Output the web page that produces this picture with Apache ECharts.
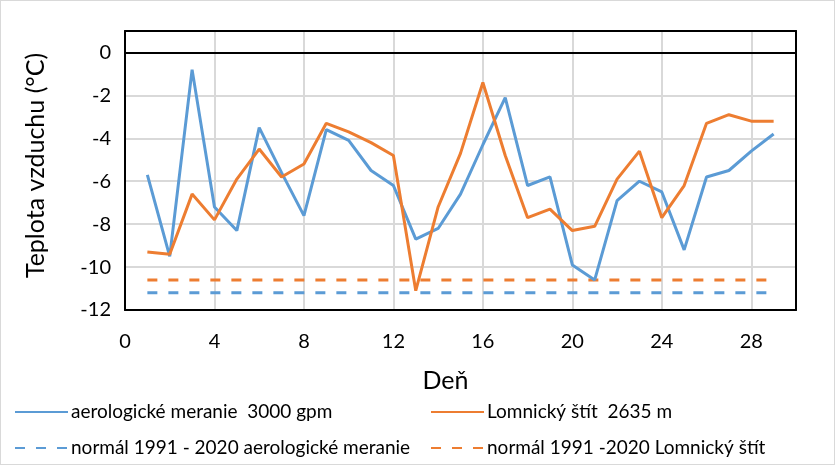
<!DOCTYPE html>
<html><head><meta charset="utf-8">
<script src="https://cdn.jsdelivr.net/npm/echarts@6/dist/echarts.min.js"></script>
<style>
html,body{margin:0;padding:0;background:#fff;}
#c{width:835px;height:465px;box-sizing:border-box;border:1px solid #d9d9d9;}
</style></head>
<body><div id="c"></div>
<script>
const days = [1,2,3,4,5,6,7,8,9,10,11,12,13,14,15,16,17,18,19,20,21,22,23,24,25,26,27,28,29];
const aero = [-5.7,-9.5,-0.8,-7.2,-8.3,-3.5,-5.6,-7.6,-3.6,-4.1,-5.5,-6.2,-8.7,-8.2,-6.6,-4.3,-2.1,-6.2,-5.8,-9.9,-10.6,-6.9,-6.0,-6.5,-9.2,-5.8,-5.5,-4.6,-3.8];
const lomnica = [-9.3,-9.4,-6.6,-7.8,-5.9,-4.5,-5.8,-5.2,-3.3,-3.7,-4.2,-4.8,-11.1,-7.2,-4.7,-1.4,-4.8,-7.7,-7.3,-8.3,-8.1,-5.9,-4.6,-7.7,-6.2,-3.3,-2.9,-3.2,-3.2];
const normalAero = [-11.2,-11.2,-11.2,-11.2,-11.2,-11.2,-11.2,-11.2,-11.2,-11.2,-11.2,-11.2,-11.2,-11.2,-11.2,-11.2,-11.2,-11.2,-11.2,-11.2,-11.2,-11.2,-11.2,-11.2,-11.2,-11.2,-11.2,-11.2,-11.2];
const normalLomnica = [-10.6,-10.6,-10.6,-10.6,-10.6,-10.6,-10.6,-10.6,-10.6,-10.6,-10.6,-10.6,-10.6,-10.6,-10.6,-10.6,-10.6,-10.6,-10.6,-10.6,-10.6,-10.6,-10.6,-10.6,-10.6,-10.6,-10.6,-10.6,-10.6];
const names = ['aerologické meranie  3000 gpm','Lomnický štít  2635 m','normál 1991 - 2020 aerologické meranie','normál 1991 -2020 Lomnický štít'];
const blue = '#5B9BD5', orange = '#ED7D31';
const font = 'Lato, "Liberation Sans", sans-serif';
const pair = (arr) => days.map((d,i)=>[d, arr[i]]);
const frame = () => ({show:true,onZero:false,lineStyle:{color:'#000',width:2}});
const legendAt = (left, items) => ({orient:'vertical',left:left,top:401,padding:0,
  itemWidth:53,itemHeight:14,itemGap:16,itemStyle:{opacity:0},
  textStyle:{fontSize:19,lineHeight:20,color:'#000',fontFamily:font,padding:[0,0,0,-2]},
  data:items});

const chart = echarts.init(document.getElementById('c'));
chart.setOption({
  animation:false,
  textStyle:{fontFamily:font},
  grid:{left:124,right:38,top:30,bottom:154,containLabel:false},
  xAxis:[{type:'value',min:0,max:30,interval:4,position:'bottom',
    name:'Deň',nameLocation:'middle',nameGap:58,
    nameTextStyle:{fontSize:25,color:'#000',fontFamily:font,padding:[0,30,0,0]},
    axisLine:frame(),axisTick:{show:false},
    axisLabel:{fontSize:20,color:'#000',margin:22,showMaxLabel:false,fontFamily:font},
    splitLine:{show:true,lineStyle:{color:'#d9d9d9',width:2}}},
   {type:'value',min:0,max:30,interval:4,position:'top',
    axisLine:frame(),axisTick:{show:false},axisLabel:{show:false},splitLine:{show:false}}],
  yAxis:[{type:'value',min:-12,max:1,interval:2,position:'left',
    name:'Teplota vzduchu (°C)',nameLocation:'middle',nameGap:77,
    nameTextStyle:{fontSize:25,color:'#000',fontFamily:font,padding:[0,0,0,10]},
    axisLine:frame(),axisTick:{show:false},
    axisLabel:{fontSize:20,color:'#000',margin:14,showMaxLabel:false,fontFamily:font},
    splitLine:{show:true,lineStyle:{color:'#d9d9d9',width:2}}},
   {type:'value',min:-12,max:1,interval:2,position:'right',
    axisLine:frame(),axisTick:{show:false},axisLabel:{show:false},splitLine:{show:false}}],
  legend:[ legendAt(13,[names[0],names[2]]), legendAt(429,[names[1],names[3]]) ],
  series:[
    {name:names[0],type:'line',data:pair(aero),showSymbol:false,symbol:'none',
     lineStyle:{color:blue,width:3},itemStyle:{color:blue},z:3,
     markLine:{silent:true,symbol:'none',label:{show:false},
       lineStyle:{color:'#000',width:2,type:'solid'},data:[{yAxis:0}]}},
    {name:names[1],type:'line',data:pair(lomnica),showSymbol:false,symbol:'none',
     lineStyle:{color:orange,width:3},itemStyle:{color:orange},z:4},
    {name:names[2],type:'line',data:pair(normalAero),showSymbol:false,symbol:'none',
     lineStyle:{color:blue,width:3,type:[10,11]},itemStyle:{color:blue},z:2},
    {name:names[3],type:'line',data:pair(normalLomnica),showSymbol:false,symbol:'none',
     lineStyle:{color:orange,width:3,type:[10,11]},itemStyle:{color:orange},z:2}
  ]
});
</script></body></html>
